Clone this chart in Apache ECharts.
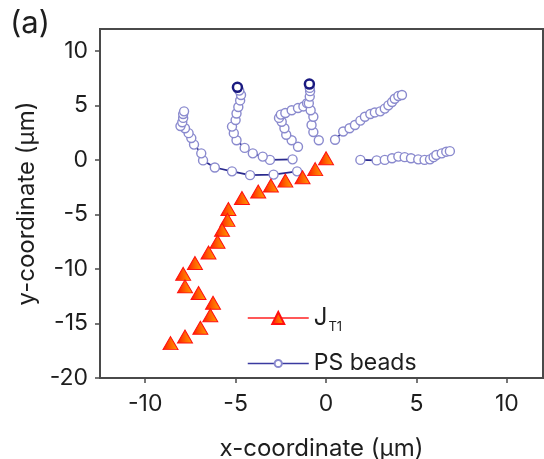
<!DOCTYPE html>
<html>
<head>
<meta charset="utf-8">
<script src="https://cdn.jsdelivr.net/npm/echarts@6/dist/echarts.min.js"></script>
<style>html,body{margin:0;padding:0;background:#fff}#c{width:544px;height:459px}</style>
</head>
<body>
<div id="c"></div>
<script>
// ---- data (µm) ----
var jt1 = [[0.0,0.15],[-0.6,-0.85],[-1.3,-1.6],[-2.25,-1.9],[-3.05,-2.35],[-3.75,-2.9],[-4.65,-3.5],[-5.4,-4.5],[-5.45,-5.5],[-5.75,-6.4],[-6.0,-7.5],[-6.5,-8.5],[-7.25,-9.45],[-7.9,-10.45],[-7.8,-11.6],[-7.05,-12.2],[-6.25,-13.1],[-6.4,-14.25],[-6.95,-15.4],[-7.8,-16.2],[-8.6,-16.8]];
var beadA = [[-1.6,-1.05],[-2.9,-1.35],[-4.2,-1.4],[-5.2,-1.05],[-6.15,-0.7],[-6.8,-0.05],[-6.9,0.6],[-7.3,1.4],[-7.45,2.0],[-7.6,2.45],[-7.8,2.9],[-8.05,3.1],[-7.95,3.45],[-7.9,3.85],[-7.9,4.2],[-7.85,4.45]];
var beadB = [[-1.85,0.05],[-3.1,0.0],[-3.5,0.3],[-4.05,0.6],[-4.5,1.1],[-4.95,1.8],[-5.1,2.45],[-5.2,3.05],[-5.0,3.65],[-4.95,4.25],[-4.85,4.85],[-4.75,5.45],[-4.7,5.95],[-4.8,6.35],[-4.9,6.65]];
var beadC = [[-1.55,1.2],[-1.9,1.8],[-2.2,2.3],[-2.3,2.9],[-2.45,3.5],[-2.6,3.85],[-2.5,4.15],[-2.25,4.3],[-1.9,4.55],[-1.55,4.75],[-1.25,4.9],[-1.05,5.2]];
var beadD = [[-0.4,1.8],[-0.7,2.55],[-0.8,3.2],[-0.7,3.95],[-0.85,4.55],[-0.95,5.2],[-0.9,5.8],[-0.88,6.3],[-0.9,6.6],[-0.92,6.95]];
var beadE = [[0.5,1.85],[0.95,2.6],[1.3,2.9],[1.6,3.2],[1.9,3.6],[2.15,3.95],[2.45,4.2],[2.7,4.35],[3.0,4.45],[3.25,4.7],[3.45,5.0],[3.65,5.3],[3.8,5.6],[4.0,5.85],[4.2,5.95]];
var beadF = [[1.9,0.0],[2.8,-0.05],[3.25,0.0],[3.65,0.15],[4.0,0.3],[4.35,0.25],[4.7,0.15],[5.1,0.05],[5.45,0.0],[5.75,0.05],[5.95,0.25],[6.1,0.45],[6.4,0.6],[6.65,0.75],[6.85,0.8]];
var xTicks = [-10,-5,0,5,10];
var yTicks = [-20,-15,-10,-5,0,5,10];
var seriesNames = ['JT1','PS beads'];
var xTitle = 'x-coordinate (\u03bcm)';
var yTitle = 'y-coordinate (\u03bcm)';
var panelLabel = '(a)';

var FONT = 'Inter';
var TXT = '#1e1e1e';
var AX = '#4a4a4a';

function beadSeries(d, darkEnd) {
  var data = d.map(function (p, i) {
    if (darkEnd && i === d.length - 1) {
      return { value: p, itemStyle: { borderColor: '#1a1a80', borderWidth: 2.5 } };
    }
    return { value: p };
  });
  return {
    name: seriesNames[1], type: 'line', data: data,
    symbol: 'circle', symbolSize: 9, showSymbol: true,
    lineStyle: { color: '#2a2a8e', width: 1.7 },
    itemStyle: { color: '#ffffff', borderColor: '#8a8ace', borderWidth: 1.4 },
    z: 2
  };
}

var series = [
  beadSeries(beadA, false), beadSeries(beadB, true), beadSeries(beadC, false),
  beadSeries(beadD, true), beadSeries(beadE, false), beadSeries(beadF, false),
  {
    name: seriesNames[0], type: 'line', data: jt1,
    symbol: 'triangle', symbolSize: [15, 13],
    lineStyle: { color: '#ff1a1a', width: 1.5, opacity: 0 },
    itemStyle: {
      color: { type: 'linear', x: 0, y: 0, x2: 1, y2: 0,
        colorStops: [{ offset: 0, color: '#ff1500' }, { offset: 0.55, color: '#ff6a00' }, { offset: 1, color: '#ffa200' }] },
      borderColor: '#ff1010', borderWidth: 1
    },
    z: 5
  }
];

var chart = echarts.init(document.getElementById('c'), null, { renderer: 'canvas' });
chart.setOption({
  animation: false,
  backgroundColor: '#ffffff',
  title: { text: panelLabel, left: 5, top: 3, textStyle: { fontFamily: FONT, fontSize: 31, fontWeight: 'normal', color: TXT } },
  grid: { left: 100, right: 1, top: 29, bottom: 81, containLabel: false, outerBoundsMode: 'none', show: true, borderColor: AX, borderWidth: 2, backgroundColor: 'transparent' },
  legend: [
    {
      data: [{ name: seriesNames[0], lineStyle: { color: '#ff2020', width: 1.5, opacity: 1 } }],
      left: 247, top: 306, padding: 0, itemWidth: 61, itemHeight: 15,
      formatter: function () { return '{j|J}{s|T1}'; },
      textStyle: { fontFamily: FONT, color: TXT, rich: {
        j: { fontFamily: FONT, fontSize: 24, color: TXT },
        s: { fontFamily: FONT, fontSize: 13, color: TXT, padding: [19, 0, 0, 1] }
      } }
    },
    {
      data: [{ name: seriesNames[1], lineStyle: { color: '#3a3aa0', width: 1.5 } }],
      left: 247, top: 352, padding: 0, itemWidth: 61, itemHeight: 9,
      textStyle: { fontFamily: FONT, fontSize: 23, color: TXT }
    }
  ],
  xAxis: {
    type: 'value', min: -12.5, max: 12,
    name: xTitle, nameLocation: 'middle', nameGap: 59,
    nameTextStyle: { fontFamily: FONT, fontSize: 24, color: TXT },
    axisLine: { show: true, onZero: false, lineStyle: { color: AX, width: 2 } },
    axisTick: { show: true, inside: false, length: 5, customValues: xTicks, lineStyle: { color: AX, width: 1.5 } },
    axisLabel: { customValues: xTicks, margin: 15, fontFamily: FONT, fontSize: 23, color: TXT },
    splitLine: { show: false }
  },
  yAxis: {
    type: 'value', min: -20, max: 12,
    name: yTitle, nameLocation: 'middle', nameGap: 53,
    nameTextStyle: { fontFamily: FONT, fontSize: 24, color: TXT },
    axisLine: { show: true, onZero: false, lineStyle: { color: AX, width: 2 } },
    axisTick: { show: true, inside: false, length: 5, customValues: yTicks, lineStyle: { color: AX, width: 1.5 } },
    axisLabel: { customValues: yTicks, margin: 12, fontFamily: FONT, fontSize: 23, color: TXT },
    splitLine: { show: false }
  },
  series: series
});
</script>
</body>
</html>
